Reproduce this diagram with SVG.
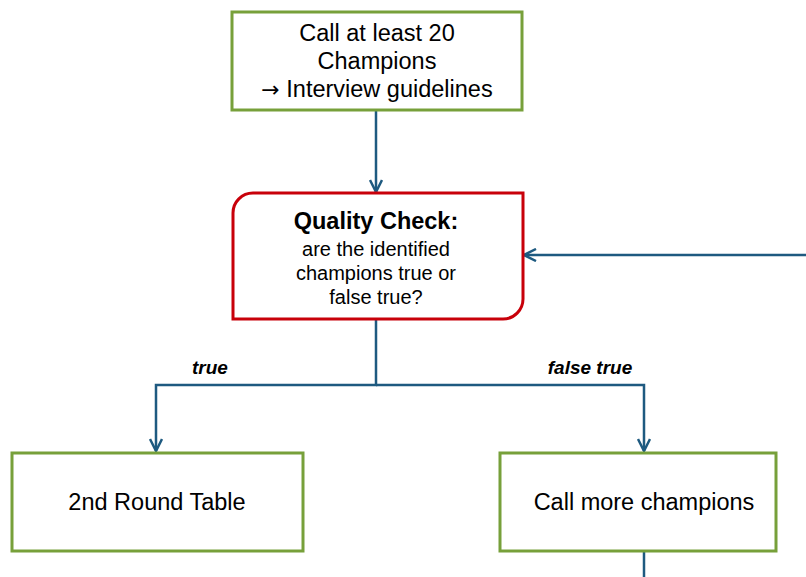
<svg xmlns="http://www.w3.org/2000/svg" width="806" height="577" viewBox="0 0 806 577">
<style>
.box{fill:#fff;stroke:#77a03a;stroke-width:3}
.dec{fill:#fff;stroke:#c8000a;stroke-width:3}
.t{font-family:"Liberation Sans",Arial,sans-serif;font-size:23.5px;fill:#000;text-anchor:middle}
.q{font-family:"Liberation Sans",Arial,sans-serif;font-size:20px;fill:#000;text-anchor:middle}
.qb{font-weight:bold;font-size:23.5px}
.lbl{font-family:"Liberation Sans",Arial,sans-serif;font-size:19px;font-weight:bold;font-style:italic;fill:#000;text-anchor:middle}
.c{fill:none;stroke:#1e5a80;stroke-width:2.5}
</style>
<defs>
<marker id="ah" viewBox="0 0 14 14" refX="13" refY="7" markerWidth="14" markerHeight="14" markerUnits="userSpaceOnUse" orient="auto">
<polyline points="1,1 13,7 1,13" fill="none" stroke="#1e5a80" stroke-width="2.5"/>
</marker>
</defs>
<g id="connectors">
<line class="c" x1="376" y1="110" x2="376" y2="192" marker-end="url(#ah)"/>
<polyline class="c" points="376,319 376,385 156,385 156,451" marker-end="url(#ah)"/>
<polyline class="c" points="376,385 644,385 644,451" marker-end="url(#ah)"/>
<line class="c" x1="806" y1="255" x2="524" y2="255" marker-end="url(#ah)"/>
<line class="c" x1="644" y1="551" x2="644" y2="577"/>
<text class="lbl" x="210" y="374">true</text>
<text class="lbl" x="590" y="374">false true</text>
</g>
<g id="n1">
<rect class="box" x="232" y="12" width="290" height="98"/>
<text class="t" x="377" y="41">Call at least 20</text>
<text class="t" x="377" y="69">Champions</text>
<text class="t" x="377" y="97"><tspan font-family="DejaVu Sans" font-size="22px">→</tspan> Interview guidelines</text>
</g>
<g id="n2">
<path class="dec" d="M253,193 H523 V299 A20,20 0 0 1 503,319 H233 V213 A20,20 0 0 1 253,193 Z"/>
<text class="q qb" x="376" y="229">Quality Check:</text>
<text class="q" x="376" y="256">are the identified</text>
<text class="q" x="376" y="280">champions true or</text>
<text class="q" x="376" y="304">false true?</text>
</g>
<g id="n3">
<rect class="box" x="12" y="453" width="291" height="98"/>
<text class="t" x="157" y="510">2nd Round Table</text>
</g>
<g id="n4">
<rect class="box" x="500" y="453" width="276" height="98"/>
<text class="t" x="644" y="510">Call more champions</text>
</g>
</svg>
